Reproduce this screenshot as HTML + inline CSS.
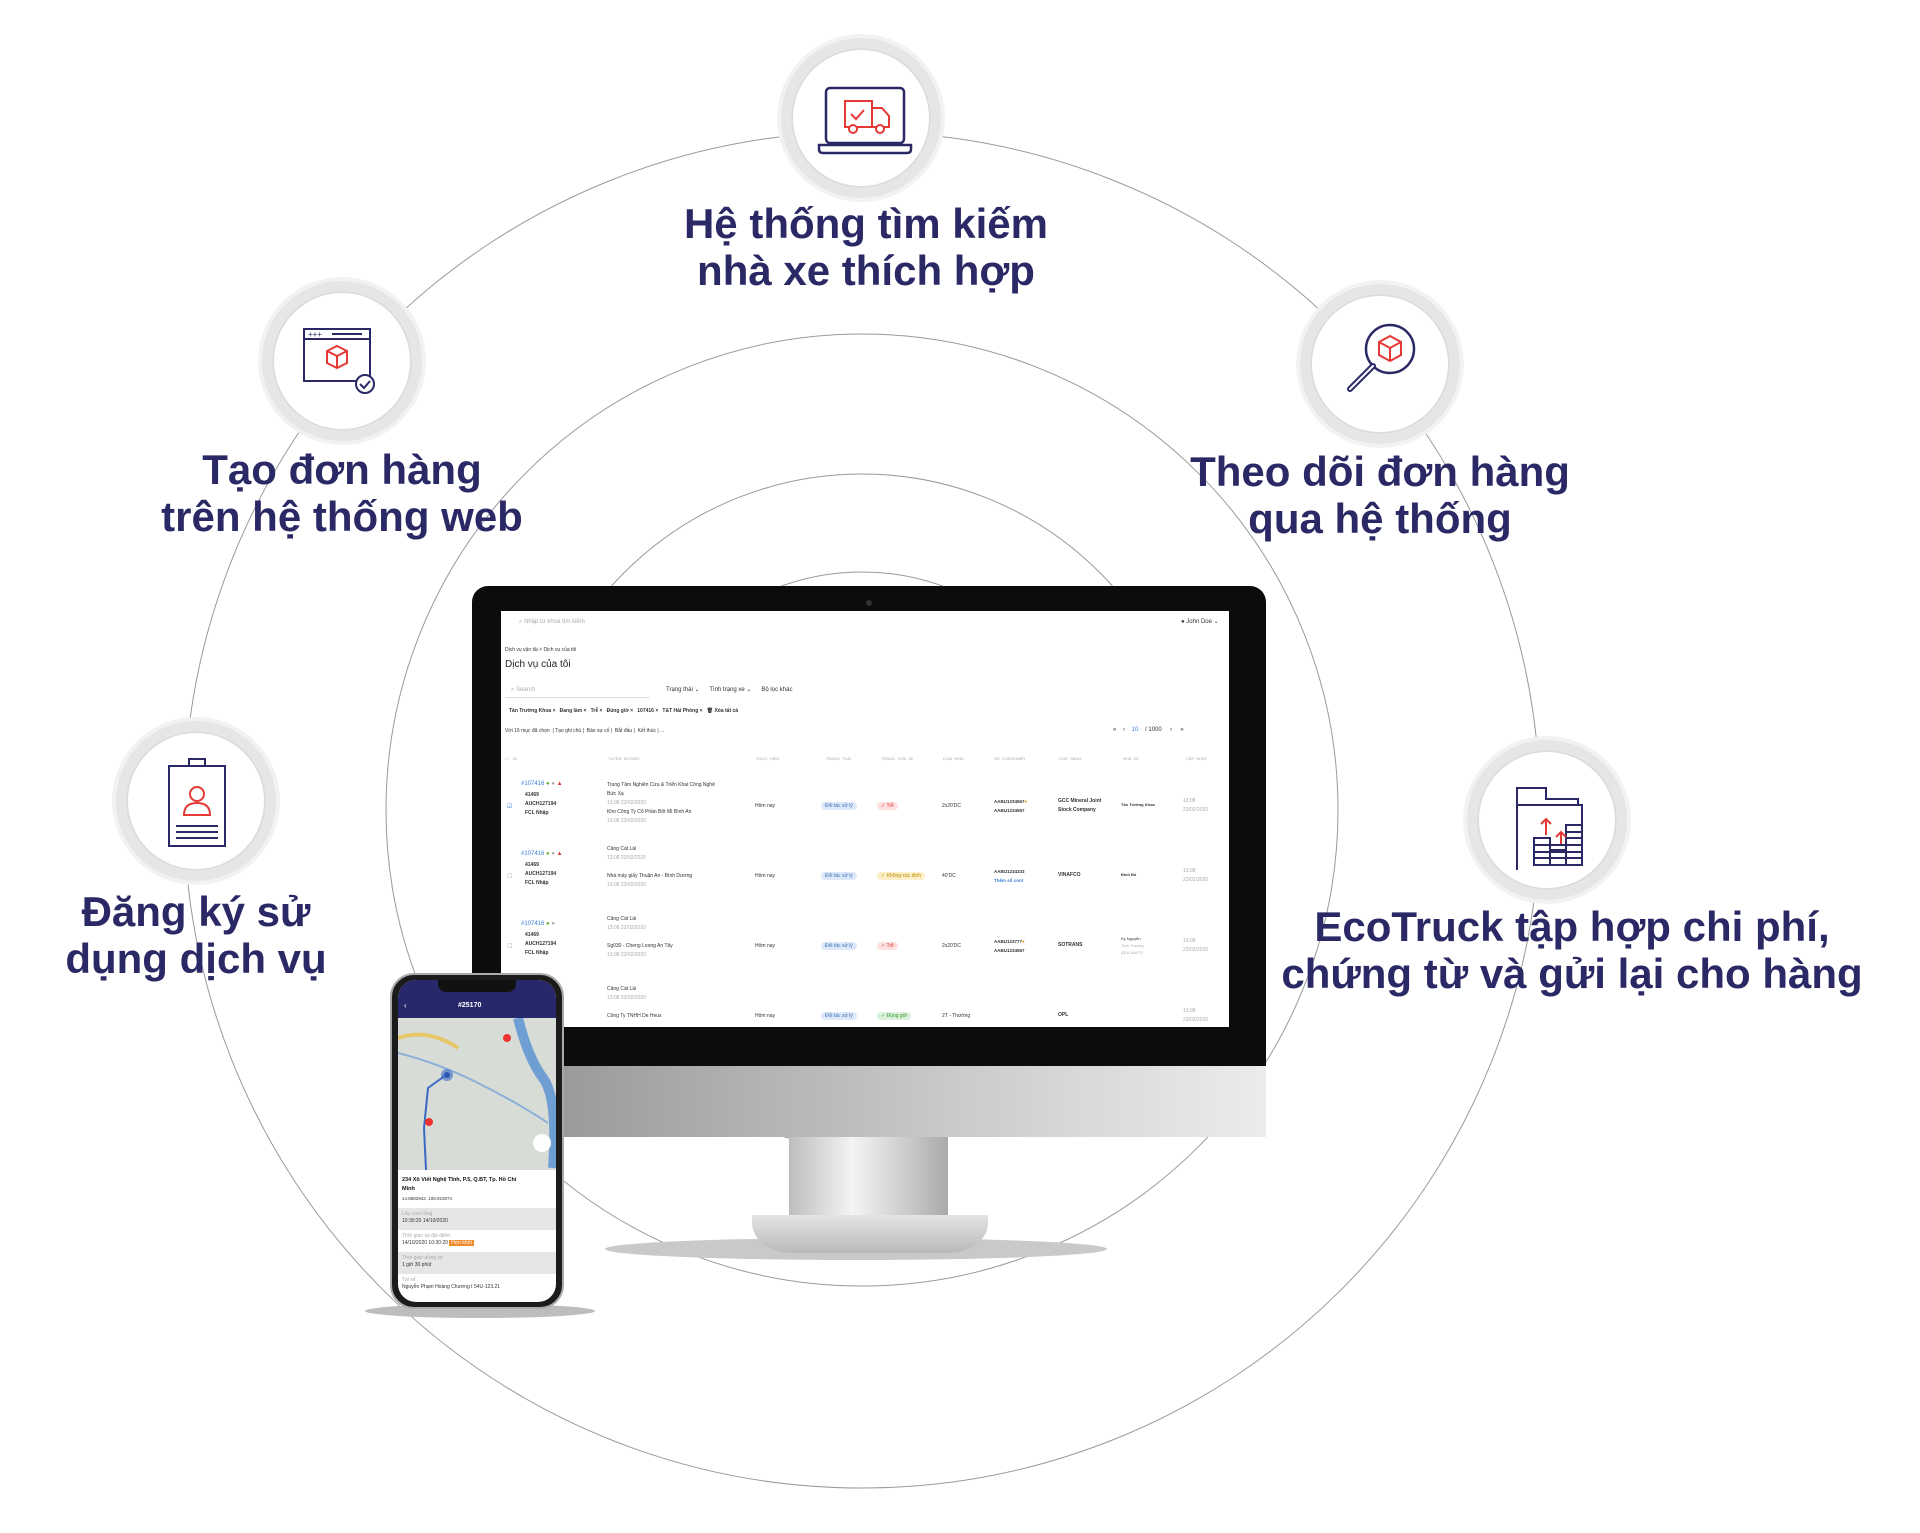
<!DOCTYPE html>
<html><head><meta charset="utf-8">
<style>
*{margin:0;padding:0;box-sizing:border-box}
body{width:1920px;height:1533px;background:#fff;position:relative;overflow:hidden;font-family:"Liberation Sans",sans-serif}
.abs{position:absolute}
.lbl{position:absolute;color:#2a2966;font-size:42px;font-weight:bold;line-height:47px;text-align:center;white-space:nowrap;transform:translateX(-50%)}
.ic{position:absolute;width:160px;height:160px;border-radius:50%;background:#fff;border:10px solid #e6e6e6;box-shadow:0 0 0 4px #f2f2f2, inset 0 0 0 2px #dcdcdc;transform:translate(-50%,-50%)}
.ic svg{position:absolute;left:0;top:0}
.s{position:absolute;font-size:6px;color:#333;white-space:nowrap}
.g{color:#aaa}
.b{font-weight:bold}
.pill{position:absolute;font-size:5px;border-radius:6px;padding:1px 4px;white-space:nowrap}
</style></head><body>

<svg class="abs" style="left:0;top:0" width="1920" height="1533">
 <g fill="none" stroke="#9a9a9a" stroke-width="1">
  <circle cx="862" cy="810" r="678"/>
  <circle cx="862" cy="810" r="476"/>
  <circle cx="862" cy="810" r="336"/>
  <circle cx="862" cy="810" r="238"/>
 </g>
</svg>

<div class="ic" style="left:861px;top:118px"><svg width="140" height="140" viewBox="0 0 140 140">
 <rect x="35" y="40" width="78" height="55" rx="4" fill="none" stroke="#2a2966" stroke-width="2.5"/>
 <path d="M28 97h92v4q0 4-4 4H32q-4 0-4-4z" fill="none" stroke="#2a2966" stroke-width="2.5"/>
 <g fill="none" stroke="#e53935" stroke-width="2"><rect x="54" y="53" width="27" height="26"/><path d="M81 60h10l7 8v11H81"/><circle cx="62" cy="81" r="4" fill="#fff"/><circle cx="89" cy="81" r="4" fill="#fff"/><path d="M60 66l5 5 8-9"/></g>
</svg></div>

<div class="ic" style="left:342px;top:361px"><svg width="140" height="140" viewBox="0 0 140 140">
 <rect x="32" y="38" width="66" height="52" fill="none" stroke="#2a2966" stroke-width="2"/>
 <path d="M32 48h66" stroke="#2a2966" stroke-width="2"/>
 <text x="36" y="46" font-size="8" fill="#2a2966">+++</text>
 <path d="M60 43h30" stroke="#2a2966" stroke-width="2"/>
 <g fill="none" stroke="#e53935" stroke-width="2"><path d="M55 60l10-5 10 5v12l-10 5-10-5z M55 60l10 5 10-5 M65 65v12"/></g>
 <circle cx="93" cy="93" r="9" fill="#fff" stroke="#2a2966" stroke-width="2"/><path d="M88 93l4 4 6-7" fill="none" stroke="#2a2966" stroke-width="2"/>
</svg></div>

<div class="ic" style="left:1380px;top:364px"><svg width="140" height="140" viewBox="0 0 140 140">
 <circle cx="80" cy="55" r="24" fill="none" stroke="#2a2966" stroke-width="2.5"/>
 <path d="M63 72L40 95" stroke="#2a2966" stroke-width="6" stroke-linecap="round"/><path d="M63 72L40 95" stroke="#fff" stroke-width="2" stroke-linecap="round"/>
 <g fill="none" stroke="#e53935" stroke-width="2"><path d="M69 48l11-6 11 6v13l-11 6-11-6z M69 48l11 6 11-6 M80 54v13"/></g>
</svg></div>

<div class="ic" style="left:196px;top:801px"><svg width="140" height="140" viewBox="0 0 140 140">
 <rect x="43" y="35" width="56" height="80" fill="none" stroke="#2a2966" stroke-width="2"/>
 <path d="M63 35v-7h16v7" fill="none" stroke="#2a2966" stroke-width="2"/>
 <circle cx="71" cy="63" r="7" fill="none" stroke="#e53935" stroke-width="2"/>
 <path d="M58 84q0-12 13-12t13 12z" fill="none" stroke="#e53935" stroke-width="2"/>
 <path d="M50 95h42M50 101h42M50 107h42" stroke="#2a2966" stroke-width="2"/>
</svg></div>

<div class="ic" style="left:1547px;top:820px"><svg width="140" height="140" viewBox="0 0 140 140">
 <path d="M40 120V38h29v11h32v6M40 55h65v59" fill="none" stroke="#2a2966" stroke-width="2"/>
 <path d="M69 49h31" stroke="#2a2966" stroke-width="2"/>
 <g fill="none" stroke="#2a2966" stroke-width="2"><rect x="57" y="88" width="16" height="27"/><rect x="73" y="100" width="16" height="15"/><rect x="89" y="75" width="16" height="40"/><path d="M57 95h48M57 102h48M57 108h48M89 82h16M89 88h16"/></g>
 <g stroke="#e53935" stroke-width="2" fill="none"><path d="M69 85V69M64 74l5-5 5 5M84 94V82M79 87l5-5 5 5"/></g>
</svg></div>

<div class="lbl" style="left:866px;top:200px">Hệ thống tìm kiếm<br>nhà xe thích hợp</div>
<div class="lbl" style="left:342px;top:446px">Tạo đơn hàng<br>trên hệ thống web</div>
<div class="lbl" style="left:1380px;top:448px">Theo dõi đơn hàng<br>qua hệ thống</div>
<div class="lbl" style="left:196px;top:888px">Đăng ký sử<br>dụng dịch vụ</div>
<div class="lbl" style="left:1572px;top:903px">EcoTruck tập hợp chi phí,<br>chứng từ và gửi lại cho hàng</div>

<div class="abs" style="left:605px;top:1238px;width:502px;height:22px;border-radius:50%;background:#c9c9c9"></div>
<div class="abs" style="left:789px;top:1137px;width:159px;height:95px;background:linear-gradient(90deg,#bdbdbd,#f4f4f4 40%,#d0d0d0 70%,#aaa)"></div>
<div class="abs" style="left:752px;top:1215px;width:236px;height:38px;border-radius:0 0 40px 40px/0 0 30px 30px;background:linear-gradient(180deg,#e4e4e4,#b9b9b9)"></div>
<div class="abs" style="left:563px;top:1064px;width:703px;height:73px;background:linear-gradient(90deg,#9a9a9a,#bdbdbd 40%,#d6d6d6 70%,#ececec)"></div>
<div class="abs" style="left:472px;top:586px;width:794px;height:480px;background:#0c0c0c;border-radius:16px 16px 0 0"></div>
<div class="abs" style="left:866px;top:600px;width:6px;height:6px;border-radius:50%;background:#333"></div>
<div class="abs" style="left:501px;top:611px;width:728px;height:416px;background:#fff;overflow:hidden">
 <div class="s g" style="left:18px;top:8px">⌕ Nhập từ khoá tìm kiếm</div>
 <div class="s" style="left:680px;top:7px">● John Doe ⌄</div>
 <div class="s" style="left:4px;top:36px;font-size:5px">Dịch vụ vận tải &gt; Dịch vụ của tôi</div>
 <div class="s" style="left:4px;top:48px;font-size:10px;color:#222">Dịch vụ của tôi</div>
 <div class="abs" style="left:4px;top:73px;width:145px;height:14px;border-bottom:1px solid #ddd"></div>
 <div class="s g" style="left:10px;top:76px">⌕ Search</div>
 <div class="s" style="left:165px;top:75px">Trạng thái ⌄ &nbsp;&nbsp;&nbsp;&nbsp; Tình trạng xe ⌄ &nbsp;&nbsp;&nbsp;&nbsp; Bộ lọc khác</div>
 <div class="s b" style="left:8px;top:97px;font-size:5px">Tân Trường Khoa × &nbsp; Đang làm × &nbsp; Trễ × &nbsp; Đúng giờ × &nbsp; 107416 × &nbsp; T&amp;T Hải Phòng × &nbsp; 🗑 Xóa tất cả</div>
 <div class="s" style="left:4px;top:117px;font-size:5px">Với 16 mục đã chọn &nbsp;| Tạo ghi chú | &nbsp;Báo sự cố | &nbsp;Bắt đầu | &nbsp;Kết thúc | ...</div>
 <div class="s" style="left:612px;top:116px">«&nbsp;&nbsp;&nbsp; ‹ &nbsp;&nbsp;&nbsp;<span style="color:#3b7fd9">10</span> &nbsp;&nbsp; / 1000 &nbsp;&nbsp;&nbsp; › &nbsp;&nbsp;&nbsp; »</div>
 <div class="s g" style="left:4px;top:145px;font-size:4px;word-spacing:1px">☐ &nbsp;ID<span style="position:absolute;left:103px">TUYẾN ĐƯỜNG</span><span style="position:absolute;left:251px">THỰC HIỆN</span><span style="position:absolute;left:321px">TRẠNG THÁI</span><span style="position:absolute;left:376px">TRẠNG THÁI XE</span><span style="position:absolute;left:438px">LOẠI HÌNH</span><span style="position:absolute;left:489px">SỐ CONTAINER</span><span style="position:absolute;left:554px">CHỦ HÀNG</span><span style="position:absolute;left:618px">NHÀ XE</span><span style="position:absolute;left:681px">CẬP NHẬT</span></div>

 <div class="abs" style="left:0;top:170px;width:728px">
  <div class="s" style="left:20px;top:0;color:#3b7fd9">#107416 <span style="color:#6a3">●</span> <span class="g">●</span> <span style="color:#d33">▲</span></div>
  <div class="s b" style="left:24px;top:10px;font-size:5px;line-height:9px">41469<br>AUCH127194<br>FCL Nhập</div>
  <div class="s" style="left:106px;top:0;font-size:5px;line-height:9px">Trung Tâm Nghiên Cứu &amp; Triển Khai Công Nghệ<br>Bức Xạ<br><span class="g">13:08 23/02/2020</span><br>Kho Công Ty Cổ Phần Bột Mì Bình An<br><span class="g">13:08 23/02/2020</span></div>
  <div class="s" style="left:6px;top:22px;color:#3b7fd9">☑</div>
  <div class="s" style="left:254px;top:22px;font-size:5px">Hôm nay</div>
  <div class="pill" style="left:320px;top:21px;background:#dde9fb;color:#3b6fb0">Đối tác xử lý</div>
  <div class="pill" style="left:376px;top:21px;background:#fde0e0;color:#d33">✓ Trễ</div>
  <div class="s" style="left:441px;top:22px;font-size:5px">2x20'DC</div>
  <div class="s b" style="left:493px;top:16px;font-size:4.5px;line-height:9px">AABU1234567<span style="color:#e80">●</span><br>AABU1234567</div>
  <div class="s b" style="left:557px;top:16px;font-size:5px;line-height:9px">GCC Mineral Joint<br>Stock Company</div>
  <div class="s b" style="left:620px;top:21px;font-size:4px">Tân Trường Khoa</div>
  <div class="s g" style="left:682px;top:16px;font-size:5px;line-height:9px">13:08<br>23/02/2020</div>
 </div>
 <div class="abs" style="left:0;top:240px;width:728px">
  <div class="s" style="left:20px;top:0;color:#3b7fd9">#107416 <span style="color:#6a3">●</span> <span class="g">●</span> <span style="color:#d33">▲</span></div>
  <div class="s b" style="left:24px;top:10px;font-size:5px;line-height:9px">41469<br>AUCH127194<br>FCL Nhập</div>
  <div class="s" style="left:106px;top:-6px;font-size:5px;line-height:9px">Cảng Cát Lái<br><span class="g">13:08 23/02/2020</span><br><br>Nhà máy giấy Thuận An - Bình Dương<br><span class="g">13:08 23/02/2020</span></div>
  <div class="s g" style="left:6px;top:22px">☐</div>
  <div class="s" style="left:254px;top:22px;font-size:5px">Hôm nay</div>
  <div class="pill" style="left:320px;top:21px;background:#dde9fb;color:#3b6fb0">Đối tác xử lý</div>
  <div class="pill" style="left:376px;top:21px;background:#fdf0c8;color:#b80">✓ Không xác định</div>
  <div class="s" style="left:441px;top:22px;font-size:5px">40'DC</div>
  <div class="s b" style="left:493px;top:16px;font-size:4.5px;line-height:9px">AABU1234333<br><span style="color:#3b7fd9">Thêm số cont</span></div>
  <div class="s b" style="left:557px;top:21px;font-size:5px">VINAFCO</div>
  <div class="s b" style="left:620px;top:21px;font-size:4px">Đình Đô</div>
  <div class="s g" style="left:682px;top:16px;font-size:5px;line-height:9px">13:08<br>23/02/2020</div>
 </div>
 <div class="abs" style="left:0;top:310px;width:728px">
  <div class="s" style="left:20px;top:0;color:#3b7fd9">#107416 <span style="color:#6a3">●</span> <span class="g">●</span></div>
  <div class="s b" style="left:24px;top:10px;font-size:5px;line-height:9px">41469<br>AUCH127194<br>FCL Nhập</div>
  <div class="s" style="left:106px;top:-6px;font-size:5px;line-height:9px">Cảng Cát Lái<br><span class="g">13:08 23/02/2020</span><br><br>Sg030 - Cheng Loong An Tây<br><span class="g">13:08 23/02/2020</span></div>
  <div class="s g" style="left:6px;top:22px">☐</div>
  <div class="s" style="left:254px;top:22px;font-size:5px">Hôm nay</div>
  <div class="pill" style="left:320px;top:21px;background:#dde9fb;color:#3b6fb0">Đối tác xử lý</div>
  <div class="pill" style="left:376px;top:21px;background:#fde0e0;color:#d33">✓ Trễ</div>
  <div class="s" style="left:441px;top:22px;font-size:5px">2x20'DC</div>
  <div class="s b" style="left:493px;top:16px;font-size:4.5px;line-height:9px">AABU123777<span style="color:#e80">●</span><br>AABU1234567</div>
  <div class="s b" style="left:557px;top:21px;font-size:5px">SOTRANS</div>
  <div class="s" style="left:620px;top:14px;font-size:4px;line-height:7px">Kỳ Nguyễn<br><span class="g">Tính Trương<br>(51A-04677)</span></div>
  <div class="s g" style="left:682px;top:16px;font-size:5px;line-height:9px">13:08<br>23/02/2020</div>
 </div>
 <div class="abs" style="left:0;top:380px;width:728px">
  <div class="s" style="left:106px;top:-6px;font-size:5px;line-height:9px">Cảng Cát Lái<br><span class="g">13:08 23/02/2020</span><br><br>Công Ty TNHH De Heus</div>
  <div class="s" style="left:254px;top:22px;font-size:5px">Hôm nay</div>
  <div class="pill" style="left:320px;top:21px;background:#dde9fb;color:#3b6fb0">Đối tác xử lý</div>
  <div class="pill" style="left:376px;top:21px;background:#dcf1dc;color:#393">✓ Đúng giờ</div>
  <div class="s" style="left:441px;top:22px;font-size:5px">2T - Thường</div>
  <div class="s b" style="left:557px;top:21px;font-size:5px">OPL</div>
  <div class="s g" style="left:682px;top:16px;font-size:5px;line-height:9px">13:08<br>23/02/2020</div>
 </div>
</div>

<div class="abs" style="left:365px;top:1304px;width:230px;height:14px;border-radius:50%;background:#bdbdbd"></div>
<div class="abs" style="left:390px;top:973px;width:174px;height:336px;border-radius:24px;background:#1b1b1b;border:2px solid #aaa"></div>
<div class="abs" style="left:398px;top:980px;width:158px;height:322px;border-radius:18px;overflow:hidden;background:#fff">
 <div class="abs" style="left:0;top:0;width:158px;height:38px;background:#27286b"></div>
 <div class="abs" style="left:40px;top:0;width:78px;height:12px;border-radius:0 0 8px 8px;background:#111"></div>
 <div class="s b" style="left:60px;top:22px;color:#fff;font-size:7px">#25170</div>
 <div class="s" style="left:6px;top:21px;color:#fff;font-size:8px">‹</div>
 <div class="abs" style="left:0;top:38px;width:158px;height:152px;background:#d8dcd6">
  <svg width="158" height="152"><path d="M120 0q10 40 25 60t10 90" stroke="#6f9ed3" stroke-width="10" fill="none"/><path d="M0 35q40 10 80 30t70 40" stroke="#8ab0d8" stroke-width="2" fill="none"/><path d="M0 20q30 -10 60 10" stroke="#e8c66a" stroke-width="4" fill="none"/><path d="M48 57L30 70l-4 40 2 42" stroke="#3a69c4" stroke-width="2" fill="none"/><circle cx="49" cy="57" r="6" fill="#3a69c4" opacity=".6"/><circle cx="49" cy="57" r="3" fill="#2a58b4"/><circle cx="31" cy="104" r="4" fill="#e33"/><circle cx="109" cy="20" r="4" fill="#e33"/><circle cx="144" cy="125" r="9" fill="#fff"/></svg>
 </div>
 <div class="s b" style="left:4px;top:196px;font-size:5.5px;line-height:9px;color:#111">234 Xô Viết Nghệ Tĩnh, P.5, Q.BT, Tp. Hồ Chí<br>Minh</div>
 <div class="s" style="left:4px;top:216px;font-size:4.5px">14.8882942, 108.923874</div>
 <div class="abs" style="left:0;top:228px;width:158px;height:22px;background:#e6e6e6"></div>
 <div class="s" style="left:4px;top:231px;font-size:5px;line-height:7px"><span class="g">Lấy cont rỗng</span><br>10:30:20 14/10/2020</div>
 <div class="s" style="left:4px;top:253px;font-size:5px;line-height:7px"><span class="g">Thời gian tại địa điểm</span><br>14/10/2020 10:30:20 <span style="background:#f08a2b;color:#fff;padding:0 2px">Hơn khởi</span></div>
 <div class="abs" style="left:0;top:272px;width:158px;height:22px;background:#e6e6e6"></div>
 <div class="s" style="left:4px;top:275px;font-size:5px;line-height:7px"><span class="g">Thời gian dừng xe</span><br>1 giờ 30 phút</div>
 <div class="s" style="left:4px;top:297px;font-size:5px;line-height:7px"><span class="g">Tài xế</span><br>Nguyễn Phạm Hoàng Chương I 54U-123.21</div>
</div>
</body></html>
